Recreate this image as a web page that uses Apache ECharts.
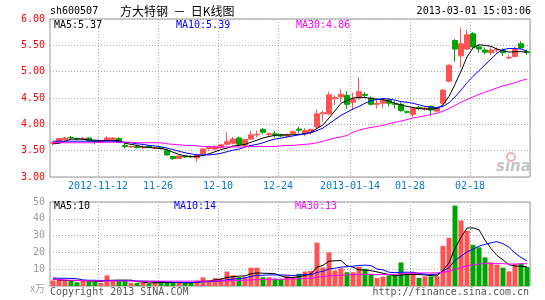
<!DOCTYPE html>
<html>
<head>
<meta charset="utf-8">
<script src="https://cdn.jsdelivr.net/npm/echarts@6/dist/echarts.min.js"></script>
<style>html,body{margin:0;padding:0;background:#fff}#c{width:545px;height:300px}</style>
</head>
<body>
<div id="c"></div>
<script>
const dates = [
'2012-10-31','2012-11-01','2012-11-02','2012-11-05','2012-11-06','2012-11-07','2012-11-08','2012-11-09','2012-11-12','2012-11-13',
'2012-11-14','2012-11-15','2012-11-16','2012-11-19','2012-11-20','2012-11-21','2012-11-22','2012-11-23','2012-11-26','2012-11-27',
'2012-11-28','2012-11-29','2012-11-30','2012-12-03','2012-12-04','2012-12-05','2012-12-06','2012-12-07','2012-12-10','2012-12-11',
'2012-12-12','2012-12-13','2012-12-14','2012-12-17','2012-12-18','2012-12-19','2012-12-20','2012-12-21','2012-12-24','2012-12-25',
'2012-12-26','2012-12-27','2012-12-28','2012-12-31','2013-01-04','2013-01-07','2013-01-08','2013-01-09','2013-01-10','2013-01-11',
'2013-01-14','2013-01-15','2013-01-16','2013-01-17','2013-01-18','2013-01-21','2013-01-22','2013-01-23','2013-01-24','2013-01-25',
'2013-01-28','2013-01-29','2013-01-30','2013-01-31','2013-02-01','2013-02-04','2013-02-05','2013-02-06','2013-02-07','2013-02-08',
'2013-02-18','2013-02-19','2013-02-20','2013-02-21','2013-02-22','2013-02-25','2013-02-26','2013-02-27','2013-02-28','2013-03-01'];

const tickDates = ['2012-11-12','2012-11-26','2012-12-10','2012-12-24','2013-01-14','2013-01-28','2013-02-18'];
const tickLabels = ['2012-11-12','11-26','12-10','12-24','2013-01-14','01-28','02-18'];

// [open, close, low, high]
const ohlc = [
[3.64,3.66,3.60,3.67],[3.66,3.73,3.65,3.74],[3.71,3.74,3.70,3.76],[3.75,3.74,3.72,3.78],[3.73,3.72,3.70,3.75],
[3.72,3.73,3.70,3.76],[3.74,3.69,3.67,3.75],[3.69,3.67,3.62,3.70],[3.66,3.68,3.64,3.70],[3.69,3.74,3.68,3.78],
[3.71,3.74,3.70,3.75],[3.73,3.66,3.64,3.76],[3.60,3.58,3.54,3.64],[3.57,3.58,3.55,3.60],[3.58,3.56,3.54,3.60],
[3.56,3.57,3.52,3.60],[3.59,3.56,3.55,3.60],[3.55,3.56,3.53,3.58],[3.56,3.54,3.52,3.57],[3.50,3.42,3.40,3.52],
[3.39,3.35,3.32,3.40],[3.35,3.40,3.34,3.41],[3.40,3.38,3.36,3.42],[3.39,3.38,3.36,3.41],[3.36,3.42,3.29,3.44],
[3.44,3.53,3.43,3.55],[3.54,3.56,3.50,3.59],[3.53,3.57,3.51,3.60],[3.56,3.61,3.54,3.63],[3.62,3.67,3.60,3.85],
[3.64,3.72,3.62,3.76],[3.74,3.62,3.59,3.77],[3.60,3.71,3.58,3.73],[3.72,3.80,3.70,3.88],[3.80,3.81,3.75,3.88],
[3.90,3.85,3.81,3.93],[3.81,3.82,3.75,3.85],[3.82,3.80,3.75,3.88],[3.80,3.78,3.76,3.82],[3.78,3.80,3.75,3.83],
[3.82,3.86,3.80,3.88],[3.91,3.89,3.83,3.95],[3.82,3.88,3.78,3.93],[3.86,3.90,3.80,3.92],[3.95,4.20,3.92,4.28],
[4.20,4.22,4.05,4.26],[4.20,4.56,4.18,4.62],[4.49,4.51,4.37,4.55],[4.52,4.57,4.42,4.67],[4.55,4.38,4.29,4.63],
[4.42,4.48,4.29,4.60],[4.50,4.62,4.46,4.89],[4.57,4.55,4.50,4.61],[4.50,4.38,4.36,4.53],[4.38,4.40,4.30,4.47],
[4.40,4.46,4.30,4.49],[4.46,4.40,4.34,4.49],[4.39,4.38,4.30,4.44],[4.38,4.26,4.24,4.44],[4.24,4.23,4.20,4.26],
[4.19,4.30,4.14,4.32],[4.32,4.30,4.27,4.35],[4.29,4.31,4.26,4.34],[4.34,4.27,4.16,4.36],[4.25,4.31,4.24,4.33],
[4.40,4.65,4.38,4.67],[4.82,5.12,4.80,5.14],[5.59,5.43,5.19,5.62],[5.30,5.53,5.08,5.84],[5.43,5.70,5.41,5.80],
[5.72,5.47,5.45,5.75],[5.47,5.43,5.36,5.52],[5.41,5.37,5.33,5.46],[5.36,5.41,5.31,5.46],[5.41,5.42,5.36,5.46],
[5.40,5.36,5.30,5.44],[5.26,5.27,5.24,5.32],[5.29,5.42,5.27,5.47],[5.53,5.45,5.43,5.58],[5.38,5.36,5.32,5.41]];

const ma5 = [
3.63,3.64,3.68,3.72,3.72,3.72,3.70,3.70,3.69,3.69,
3.69,3.69,3.64,3.62,3.60,3.57,3.56,3.55,3.54,3.52,
3.47,3.43,3.40,3.39,3.39,3.41,3.44,3.48,3.52,3.55,
3.59,3.60,3.62,3.66,3.70,3.74,3.77,3.79,3.80,3.80,
3.80,3.81,3.82,3.85,3.92,3.99,4.12,4.26,4.40,4.45,
4.50,4.51,4.51,4.49,4.48,4.47,4.44,4.40,4.37,4.34,
4.32,4.30,4.29,4.29,4.30,4.37,4.53,4.76,5.01,5.28,
5.45,5.51,5.50,5.48,5.43,5.40,5.37,5.38,5.38,5.37];

const ma10 = [
3.68,3.68,3.68,3.68,3.68,3.68,3.68,3.68,3.68,3.68,
3.68,3.67,3.66,3.65,3.63,3.62,3.60,3.59,3.57,3.55,
3.52,3.49,3.46,3.44,3.42,3.42,3.42,3.43,3.45,3.48,
3.51,3.53,3.57,3.60,3.62,3.65,3.69,3.72,3.74,3.76,
3.78,3.80,3.82,3.84,3.88,3.93,4.01,4.09,4.17,4.23,
4.29,4.34,4.40,4.45,4.47,4.49,4.48,4.46,4.43,4.42,
4.40,4.37,4.34,4.33,4.32,4.34,4.41,4.52,4.65,4.79,
4.91,5.02,5.13,5.24,5.35,5.42,5.44,5.44,5.43,5.39];

const ma30 = [
3.65,3.65,3.65,3.65,3.65,3.65,3.65,3.65,3.66,3.66,
3.66,3.66,3.66,3.66,3.65,3.65,3.65,3.65,3.65,3.63,
3.62,3.61,3.60,3.60,3.59,3.58,3.58,3.57,3.57,3.57,
3.57,3.57,3.57,3.58,3.58,3.58,3.58,3.58,3.59,3.60,
3.60,3.61,3.62,3.63,3.65,3.68,3.71,3.74,3.76,3.79,
3.85,3.89,3.92,3.94,3.96,3.98,4.01,4.04,4.06,4.09,
4.12,4.14,4.16,4.19,4.21,4.25,4.30,4.36,4.42,4.47,
4.52,4.57,4.61,4.65,4.69,4.73,4.76,4.79,4.83,4.86];

const volume = [
3.3,4.0,3.5,3.1,2.2,3.1,2.7,2.4,1.8,6.3,
3.3,2.9,3.4,1.8,1.8,2.0,1.4,2.6,2.5,1.8,
2.0,2.0,1.8,1.8,3.2,5.1,3.2,4.7,4.4,8.6,
6.3,5.3,5.5,10.9,10.9,5.2,5.2,4.4,4.1,5.9,
5.5,7.3,8.6,9.0,25.8,11.0,20.0,9.2,10.6,8.2,
8.2,11.5,10.2,7.3,4.7,5.6,6.4,6.3,14.0,7.3,
8.2,4.9,5.7,5.7,5.7,23.9,28.7,47.9,39.0,33.0,
24.5,23.0,17.0,14.0,12.7,10.9,8.7,13.0,13.4,11.3];

const vma5 = [
4.3,3.6,3.4,3.3,3.3,3.2,3.0,2.8,2.6,3.3,
3.4,3.5,3.5,3.5,2.6,2.3,1.8,1.9,2.1,2.0,
2.1,2.0,1.9,1.9,2.2,2.8,2.9,3.6,4.1,5.1,
5.5,5.9,6.0,7.3,7.8,7.6,7.5,7.3,6.0,5.0,
5.1,5.5,6.3,7.3,11.2,12.3,14.8,15.0,15.2,12.0,
11.2,9.6,9.5,9.1,8.4,7.6,6.8,6.1,6.5,6.8,
6.9,6.8,6.6,6.2,6.0,9.2,13.9,22.4,29.0,34.5,
34.6,33.5,27.3,22.3,18.2,15.5,12.7,11.9,11.7,11.4];

const vma10 = [
4.8,4.6,4.6,4.5,4.3,3.6,3.4,3.4,3.3,3.3,
3.3,3.3,3.3,3.2,3.0,2.9,2.8,2.8,2.6,2.4,
2.3,2.2,2.1,2.1,2.2,2.5,2.6,2.8,3.0,3.7,
4.1,4.4,4.8,5.7,6.4,6.4,6.6,6.6,6.6,6.4,
6.3,6.5,6.8,6.6,8.1,8.7,10.2,10.6,11.3,11.5,
11.8,12.2,12.4,12.2,10.1,9.6,8.2,7.9,8.2,8.2,
8.2,7.5,7.0,6.9,7.0,8.8,11.0,15.2,17.7,20.3,
21.9,23.7,24.8,25.7,26.4,25.1,23.1,19.6,17.0,14.9];

const vma30 = [
3.9,3.8,3.6,3.4,3.3,3.2,3.1,3.0,3.0,3.0,
3.0,3.0,3.0,3.0,2.9,2.9,2.9,2.9,2.9,2.9,
2.9,2.9,2.9,2.9,2.9,2.9,2.9,3.0,3.0,3.1,
3.2,3.3,3.4,3.6,3.8,3.9,4.0,4.0,4.1,4.1,
4.2,4.3,4.5,4.6,5.3,5.5,6.0,6.2,6.4,6.6,
6.8,6.9,6.9,6.9,6.9,6.9,6.9,6.9,7.2,7.5,
7.7,7.7,7.8,7.8,7.8,8.2,8.7,9.9,11.0,12.0,
12.6,13.1,13.4,13.6,13.3,13.3,13.0,13.1,13.2,13.3];

const priceTicks = [3.00,3.50,4.00,4.50,5.00,5.50,6.00];
const volTicks = [10,20,30,40,50];

const UP = '#ff5252', DOWN = '#00a400';
const MONO = 'DejaVu Sans Mono';
const tickIdx = tickDates.map(d => dates.indexOf(d));
const gridLine = {color:'#a8a8a8', type:[1,2], width:1};

const volData = volume.map((v,i) => ({value:v, itemStyle:{color: ohlc[i][1] >= ohlc[i][0] ? UP : DOWN}}));

function txt(x, y, text, color, align) {
  return {type:'text', x:x, y:y, silent:true,
    style:{text:text, fill:color, font:'10px "' + MONO + '"', textVerticalAlign:'middle', textAlign:align||'left'}};
}

const chart = echarts.init(document.getElementById('c'), null, {renderer:'canvas'});
chart.setOption({
  backgroundColor:'#fff',
  animation:false,
  grid:[
    {left:50, top:19, width:480, height:158, show:true, borderColor:'#999', borderWidth:1},
    {left:50, top:202, width:480, height:84, show:true, borderColor:'#999', borderWidth:1}
  ],
  xAxis:[
    {type:'category', gridIndex:0, data:dates, boundaryGap:true,
     axisLine:{show:false}, axisTick:{show:false},
     splitLine:{show:true, interval:(i)=>tickIdx.includes(i), lineStyle:gridLine},
     axisLabel:{show:true, interval:(i)=>tickIdx.includes(i), color:'#0a78d4', fontFamily:MONO, fontSize:10, margin:4,
       padding:[0,6,0,0],
       formatter:(v)=>{const j=tickDates.indexOf(v); return j>=0?tickLabels[j]:'';}}},
    {type:'category', gridIndex:1, data:dates, boundaryGap:true,
     axisLine:{show:false}, axisTick:{show:false}, axisLabel:{show:false},
     splitLine:{show:true, interval:(i)=>tickIdx.includes(i), lineStyle:gridLine}}
  ],
  yAxis:[
    {type:'value', gridIndex:0, min:priceTicks[0], max:priceTicks[priceTicks.length-1], interval:0.5,
     axisLine:{show:false}, axisTick:{show:false},
     splitLine:{show:true, lineStyle:gridLine},
     axisLabel:{color:'#ff0000', fontFamily:MONO, fontSize:10, margin:5, formatter:(v)=>v.toFixed(2)}},
    {type:'value', gridIndex:1, min:0, max:volTicks[volTicks.length-1], interval:10,
     axisLine:{show:false}, axisTick:{show:false},
     splitLine:{show:true, lineStyle:gridLine},
     axisLabel:{color:'#9a9a9a', fontFamily:MONO, fontSize:10, margin:5, formatter:(v)=>volTicks.includes(v)?String(v):''}}
  ],
  series:[
    {type:'candlestick', xAxisIndex:0, yAxisIndex:0, data:ohlc, barWidth:5,
     itemStyle:{color:UP, color0:DOWN, borderColor:UP, borderColor0:DOWN, borderWidth:1}},
    {type:'line', xAxisIndex:0, yAxisIndex:0, data:ma5, symbol:'none', lineStyle:{color:'#000', width:1}},
    {type:'line', xAxisIndex:0, yAxisIndex:0, data:ma10, symbol:'none', lineStyle:{color:'#0000ff', width:1}},
    {type:'line', xAxisIndex:0, yAxisIndex:0, data:ma30, symbol:'none', lineStyle:{color:'#ff00ff', width:1}},
    {type:'bar', xAxisIndex:1, yAxisIndex:1, data:volData, barWidth:5},
    {type:'line', xAxisIndex:1, yAxisIndex:1, data:vma5, symbol:'none', lineStyle:{color:'#000', width:1}},
    {type:'line', xAxisIndex:1, yAxisIndex:1, data:vma10, symbol:'none', lineStyle:{color:'#0000ff', width:1}},
    {type:'line', xAxisIndex:1, yAxisIndex:1, data:vma30, symbol:'none', lineStyle:{color:'#ff00ff', width:1}}
  ],
  graphic:[
    txt(50, 11, 'sh600507', '#000'),
    {type:'text', x:120, y:11, silent:true, style:{text:'方大特钢  －  日K线图', fill:'#000', font:'12px "Noto Sans CJK SC"', textVerticalAlign:'middle'}},
    txt(531, 11, '2013-03-01 15:03:06', '#000', 'right'),
    txt(54, 25.5, 'MA5:5.37', '#000'),
    txt(176, 25.5, 'MA10:5.39', '#0000ff'),
    txt(296, 25.5, 'MA30:4.86', '#ff00ff'),
    txt(54, 206.5, 'MA5:10', '#000'),
    txt(174, 206.5, 'MA10:14', '#0000ff'),
    txt(295, 206.5, 'MA30:13', '#ff00ff'),
    {type:'text', x:45, y:288, silent:true, style:{text:'x万', fill:'#a0a0a0', font:'10px "Noto Sans CJK SC"', textVerticalAlign:'middle', textAlign:'right'}},
    txt(50, 292.5, 'Copyright 2013 SINA.COM', '#555'),
    txt(529, 292.5, 'http://finance.sina.com.cn', '#555', 'right'),
    {type:'circle', shape:{cx:511, cy:157, r:4}, silent:true, style:{fill:'none', stroke:'#f3b0b0', lineWidth:2}},
    {type:'text', x:496, y:167, silent:true, style:{text:'sina', fill:'#c4c4c4', font:'italic bold 15px "DejaVu Sans"', textVerticalAlign:'middle'}}
  ]
});
</script>
</body>
</html>
